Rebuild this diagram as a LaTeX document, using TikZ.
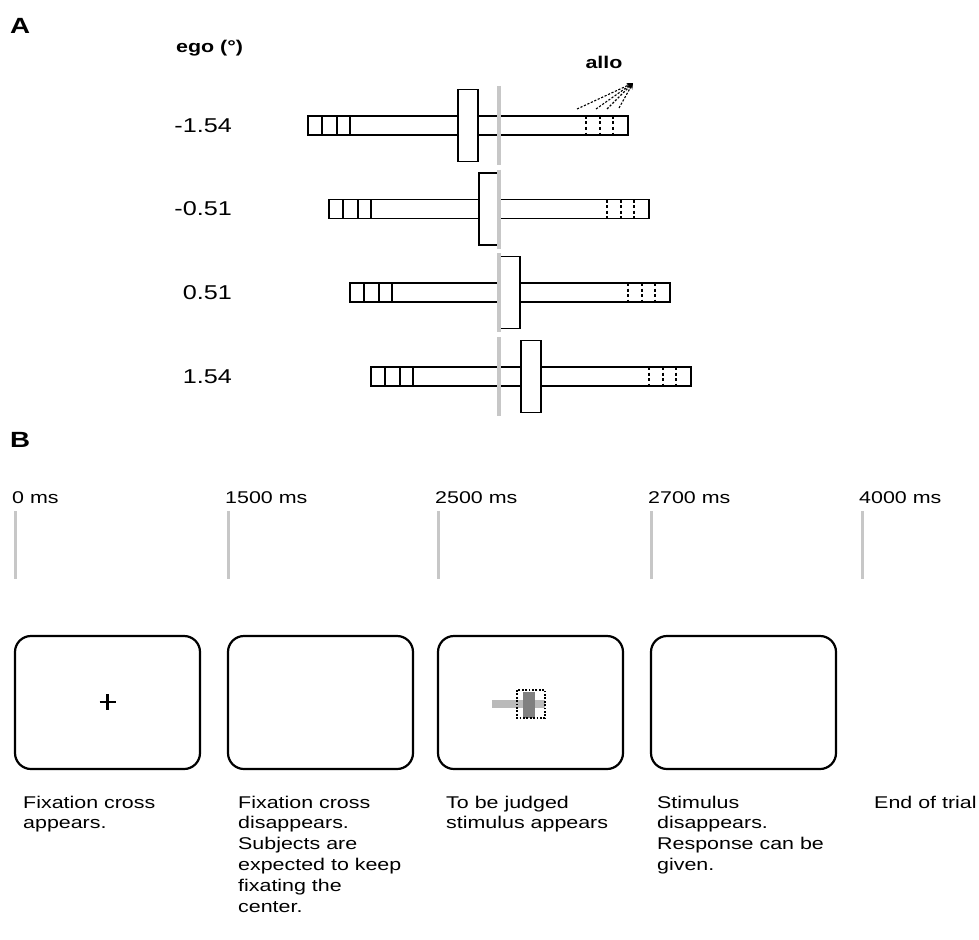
\documentclass[tikz,border=0pt]{standalone}
\usepackage{fontspec}
\setmainfont{Liberation Sans}[FakeStretch=1.26]
\usetikzlibrary{arrows.meta}
\begin{document}
\begin{tikzpicture}[x=1pt,y=-1pt,
  barline/.style={draw=black, line width=1.6pt, fill=white},
  grayline/.style={draw=black!22, line width=3.4pt},
  dashdiv/.style={draw=black, line width=1.5pt, dash pattern=on 3pt off 2.5pt},
  alloline/.style={draw=black, line width=1.1pt, dash pattern=on 2.2pt off 1.6pt},
  txt/.style={font=\fontsize{17}{20.8}\selectfont, inner sep=0pt, align=left},
  numlab/.style={font=\fontsize{20}{24}\selectfont, inner sep=0pt},
  boldlab/.style={font=\fontsize{17}{21}\selectfont\bfseries, inner sep=0pt},
  panellab/.style={font=\fontsize{22}{26}\selectfont\bfseries, inner sep=0pt},
  screen/.style={draw=black, line width=2.2pt, rounded corners=16pt},
  tick/.style={draw=black!22, line width=3pt}]
\useasboundingbox (0,0) rectangle (979,939);

% Panel A
\node[panellab, anchor=base west] (labA) at (10,34) {A};
\node[boldlab, anchor=base west] (ego) at (176,53) {ego (°)};
\node[boldlab] (allolab) at (604,62) {allo};

\foreach \k/\yc/\lab in {0/125.5/-1.54, 1/209/-0.51, 2/292.5/0.51, 3/376.5/1.54}{
  \pgfmathsetmacro{\xl}{308+21*\k}
  \draw[barline] (\xl,\yc-9.5) rectangle (\xl+320,\yc+9.5);
  \foreach \d in {14,29,42}{
    \draw[line width=1.6pt] (\xl+\d,\yc-9.5) -- (\xl+\d,\yc+9.5);
  }
  \foreach \d in {278,292,305}{
    \draw[dashdiv] (\xl+\d,\yc-9.5) -- (\xl+\d,\yc+9.5);
  }
  \draw[barline] (\xl+150,\yc-36) rectangle (\xl+170,\yc+36);
  \draw[grayline] (499,\yc-39.5) -- (499,\yc+39.5);
  \node[numlab, anchor=east] (row\k) at (232,\yc) {\lab};
}

\coordinate (allotip) at (633,83);
\coordinate (a1) at (577,109);
\coordinate (a2) at (596,109);
\coordinate (a3) at (607,109);
\coordinate (a4) at (619,108);
\foreach \a in {a1,a2,a3,a4}{
  \draw[alloline, -{Stealth[length=6pt,width=5pt]}] (\a) -- (allotip);
}

% Panel B
\node[panellab, anchor=base west] (labB) at (10,447) {B};

\foreach \x/\t [count=\i] in {15/0 ms, 228/1500 ms, 438/2500 ms, 651/2700 ms, 862/4000 ms}{
  \node[txt, anchor=base west] (time\i) at (\x-3,503) {\t};
  \draw[tick] (\x,511) -- (\x,579);
}

\foreach \x [count=\i] in {15,228,438,651}{
  \draw[screen] (\x,636) rectangle (\x+185,769);
}

% fixation cross
\draw[line width=2.6pt] (99.5,702) -- (115.5,702);
\draw[line width=2.6pt] (107.5,694) -- (107.5,710);

% stimulus
\fill[black!27] (492,700) rectangle (545,708);
\fill[black!50] (523,692) rectangle (535,718);
\draw[line width=1.8pt, dash pattern=on 1.8pt off 1.6pt] (517,690) rectangle (545,718);

% descriptions
\node[txt, anchor=north west] (d1) at (23,795.5) {Fixation cross\\appears.};
\node[txt, anchor=north west] (d2) at (238,795.5) {Fixation cross\\disappears.\\Subjects are\\expected to keep\\fixating the\\center.};
\node[txt, anchor=north west] (d3) at (446,795.5) {To be judged\\stimulus appears};
\node[txt, anchor=north west] (d4) at (657,795.5) {Stimulus\\disappears.\\Response can be\\given.};
\node[txt, anchor=north west] (d5) at (874,795.5) {End of trial};
\end{tikzpicture}
\end{document}
